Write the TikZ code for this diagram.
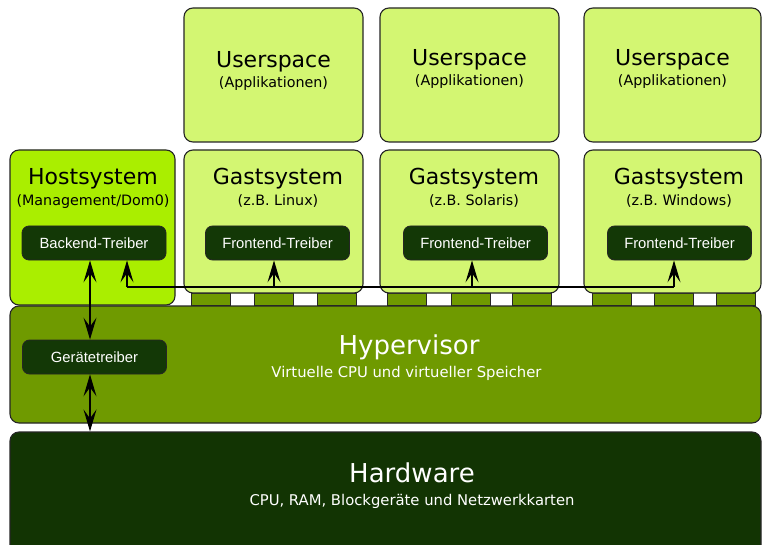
\documentclass[tikz,border=0pt]{standalone}
\usepackage{fontspec}
\setmainfont{DejaVu Sans}
\newfontfamily\drvfont{Liberation Sans}
\usetikzlibrary{arrows.meta}

\definecolor{paleGreen}{RGB}{211,246,114}
\definecolor{limeGreen}{RGB}{170,238,0}
\definecolor{oliveGreen}{RGB}{111,154,0}
\definecolor{forestDark}{RGB}{18,52,3}
\definecolor{driverDark}{RGB}{19,56,6}
\definecolor{edgeGray}{RGB}{38,38,38}

\begin{document}
\begin{tikzpicture}[x=1pt,y=-1pt,
  panel/.style={draw=edgeGray, line width=1.1pt, rounded corners=9pt, inner sep=0pt},
  lugbox/.style={draw=edgeGray, line width=1pt, fill=oliveGreen, inner sep=0pt,
    minimum width=39pt, minimum height=12pt},
  drvbox/.style={draw=edgeGray, line width=0.8pt, fill=driverDark, rounded corners=7pt,
    minimum width=144pt, minimum height=34pt, inner sep=0pt, text=white,
    font=\drvfont\fontsize{14.8}{16}\selectfont},
  bigtitle/.style={anchor=base, inner sep=0pt, font=\fontsize{22}{24}\selectfont},
  subtitle/.style={anchor=base, inner sep=0pt, font=\fontsize{14.3}{16}\selectfont},
  layertitle/.style={anchor=base, inner sep=0pt, text=white, font=\fontsize{26}{28}\selectfont},
  layersub/.style={anchor=base, inner sep=0pt, text=white, font=\fontsize{14.8}{16}\selectfont},
  arr/.style={line width=1.4pt, draw=black},
  head/.tip={Stealth[length=22pt,width=13pt,inset=9pt]}
]
\clip (0,0) rectangle (762,545);
\fill[white] (0,0) rectangle (762,545);

% Hardware layer
\node[panel, fill=forestDark, minimum width=751pt, minimum height=140pt] (hw) at (385.5,502) {};
\node[layertitle] (hwT) at (412,482) {Hardware};
\node[layersub] (hwS) at (412,505) {CPU, RAM, Blockgeräte und Netzwerkkarten};

% Hypervisor layer
\node[panel, fill=oliveGreen, minimum width=751pt, minimum height=117pt] (hyp) at (385.5,364.5) {};
\node[layertitle] (hypT) at (409,354) {Hypervisor};
\node[layersub] (hypS) at (406.5,377) {Virtuelle CPU und virtueller Speicher};

% Connector lugs under the guest systems
\node[lugbox] (l11) at (211,299) {};
\node[lugbox] (l12) at (273.5,299) {};
\node[lugbox] (l13) at (336.5,299) {};
\node[lugbox] (l21) at (407,299) {};
\node[lugbox] (l22) at (470.5,299) {};
\node[lugbox] (l23) at (531.5,299) {};
\node[lugbox] (l31) at (612,299) {};
\node[lugbox] (l32) at (673.5,299) {};
\node[lugbox] (l33) at (736,299) {};

% Userspace boxes
\node[panel, fill=paleGreen, minimum width=179pt, minimum height=134pt] (us1) at (273.5,75) {};
\node[panel, fill=paleGreen, minimum width=179pt, minimum height=134pt] (us2) at (469.5,75) {};
\node[panel, fill=paleGreen, minimum width=177pt, minimum height=134pt] (us3) at (672.5,75) {};
\node[bigtitle] (us1T) at (273.5,68) {Userspace};
\node[subtitle] (us1S) at (273.5,88) {(Applikationen)};
\node[bigtitle] (us2T) at (469.5,66) {Userspace};
\node[subtitle] (us2S) at (469.5,86) {(Applikationen)};
\node[bigtitle] (us3T) at (672.5,66) {Userspace};
\node[subtitle] (us3S) at (672.5,86) {(Applikationen)};

% Host system
\node[panel, fill=limeGreen, minimum width=165pt, minimum height=155pt] (host) at (92.5,227.5) {};
\node[bigtitle] (hostT) at (93,185) {Hostsystem};
\node[subtitle] (hostS) at (93,206) {(Management/Dom0)};

% Guest systems
\node[panel, fill=paleGreen, minimum width=179pt, minimum height=143pt] (g1) at (273.5,221.5) {};
\node[panel, fill=paleGreen, minimum width=179pt, minimum height=143pt] (g2) at (469.5,221.5) {};
\node[panel, fill=paleGreen, minimum width=177pt, minimum height=143pt] (g3) at (672.5,221.5) {};
\node[bigtitle] (g1T) at (278,185) {Gastsystem};
\node[subtitle] (g1S) at (278,206) {(z.B. Linux)};
\node[bigtitle] (g2T) at (474,185) {Gastsystem};
\node[subtitle] (g2S) at (474,206) {(z.B. Solaris)};
\node[bigtitle] (g3T) at (679,185) {Gastsystem};
\node[subtitle] (g3S) at (679,206) {(z.B. Windows)};

% Drivers
\node[drvbox] (bk) at (94,243) {Backend-Treiber};
\node[drvbox] (f1) at (277.5,243) {Frontend-Treiber};
\node[drvbox] (f2) at (475.5,243) {Frontend-Treiber};
\node[drvbox] (f3) at (679.5,243) {Frontend-Treiber};
\node[drvbox] (gt) at (94.5,357) {Gerätetreiber};

% Device path: backend <-> device driver <-> hardware
\draw[arr, head-head] ([xshift=-4pt]bk.south) -- ([xshift=-4.5pt]gt.north);
\draw[arr, head-head] ([xshift=-4.5pt]gt.south) -- ([xshift=-4.5pt]gt.south |- hw.north);

% Split-driver bus between backend and frontends
\coordinate (busL) at ([xshift=33pt]bk.south |- 0,287);
\coordinate (busR) at ([xshift=-5.5pt]f3.south |- 0,287);
\draw[arr, -head] (busL) -- ([xshift=33pt]bk.south);
\draw[arr] (busL) -- (busR);
\draw[arr, -head] ([xshift=-3.5pt]f1.south |- busL) -- ([xshift=-3.5pt]f1.south);
\draw[arr, -head] ([xshift=-3.5pt]f2.south |- busL) -- ([xshift=-3.5pt]f2.south);
\draw[arr, -head] (busR) -- ([xshift=-5.5pt]f3.south);
\end{tikzpicture}
\end{document}
